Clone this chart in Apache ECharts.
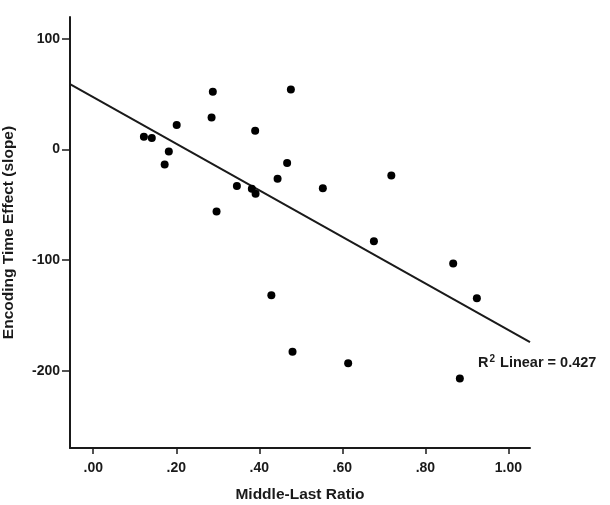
<!DOCTYPE html>
<html>
<head>
<meta charset="utf-8">
<script src="https://cdn.jsdelivr.net/npm/echarts@6/dist/echarts.min.js"></script>
<style>
	html, body { margin: 0; padding: 0; background: #fff; }
	#chart { width: 610px; height: 505px; }
</style>
</head>
<body>
<div id="chart"></div>
<script>
/**
 * Middle-Last Ratio vs Encoding Time Effect
 * */

//散点数据
var ratio = [0.122, 0.141, 0.182, 0.172, 0.201, 0.288, 0.285, 0.297, 0.346, 0.382, 0.391, 0.390,
	0.476, 0.467, 0.444, 0.553, 0.718, 0.676, 0.429, 0.480, 0.614, 0.867, 0.924, 0.883];
var slope = [11.7, 10.5, -1.8, -13.5, 22.2, 52.3, 29.1, -55.9, -33.0, -35.4, -39.9, 17.1,
	54.3, -12.0, -26.4, -34.9, -23.4, -82.9, -131.8, -182.9, -193.4, -103.0, -134.5, -207.2];

//拟合线两端
var fitX = [-0.056, 1.052];
var fitY = [59.2, -174.1];

//刻度
var xTicks = [0, 0.2, 0.4, 0.6, 0.8, 1.0];
var xTickLabels = ['.00', '.20', '.40', '.60', '.80', '1.00'];
var yTicks = [-200, -100, 0, 100];
var yTickLabels = ['-200', '-100', '0', '100'];

var font = '"Liberation Sans", Arial, sans-serif';
var ink = '#1a1a1a';

var chart = echarts.init(document.getElementById('chart'));

var points = ratio.map(function(x, i) {
	return [x, slope[i]];
});
var fitLine = fitX.map(function(x, i) {
	return [x, fitY[i]];
});

var option = {
	backgroundColor: '#ffffff',
	animation: false,
	grid: {
		left: 70,
		right: 80,
		top: 17,
		bottom: 57,
		containLabel: false,
		outerBoundsMode: 'none'
	},
	xAxis: {
		type: 'value',
		min: -0.056,
		max: 1.052,
		name: 'Middle-Last Ratio',
		nameLocation: 'middle',
		nameGap: 39,
		nameTextStyle: { color: ink, fontSize: 15.5, fontWeight: 'bold', fontFamily: font },
		axisLine: { show: true, onZero: false, lineStyle: { color: ink, width: 2 } },
		axisTick: { show: true, customValues: xTicks, length: 6, lineStyle: { color: ink, width: 1.5 } },
		axisLabel: {
			customValues: xTicks,
			color: ink,
			fontSize: 14,
			fontWeight: 'bold',
			fontFamily: font,
			margin: 13,
			formatter: function(v) {
				var i = xTicks.indexOf(v);
				return i > -1 ? xTickLabels[i] : '';
			}
		},
		splitLine: { show: false }
	},
	yAxis: {
		type: 'value',
		min: -270,
		max: 120,
		name: 'Encoding Time Effect (slope)',
		nameLocation: 'middle',
		nameGap: 53,
		nameTextStyle: { color: ink, fontSize: 15.5, fontWeight: 'bold', fontFamily: font },
		axisLine: { show: true, onZero: false, lineStyle: { color: ink, width: 2 } },
		axisTick: { show: true, customValues: yTicks, length: 8, lineStyle: { color: ink, width: 1.5 } },
		axisLabel: {
			customValues: yTicks,
			color: ink,
			fontSize: 14,
			fontWeight: 'bold',
			fontFamily: font,
			margin: 10,
			formatter: function(v) {
				var i = yTicks.indexOf(v);
				return i > -1 ? yTickLabels[i] : '';
			}
		},
		splitLine: { show: false }
	},
	series: [{
		type: 'line',
		data: fitLine,
		symbol: 'none',
		silent: true,
		lineStyle: { color: ink, width: 2 },
		z: 2
	}, {
		type: 'scatter',
		data: points,
		symbolSize: 8,
		itemStyle: { color: '#000000', opacity: 1 },
		z: 3
	}],
	graphic: [{
		type: 'text',
		left: 478,
		top: 354,
		style: {
			text: '{r|R}{sup|2}{r| Linear = 0.427}',
			fill: ink,
			rich: {
				r: { fontSize: 14.5, fontWeight: 'bold', fontFamily: font, fill: ink },
				sup: { fontSize: 10, fontWeight: 'bold', fontFamily: font, fill: ink, padding: [0, 1, 8, 1] }
			}
		}
	}]
};

chart.setOption(option);
</script>
</body>
</html>
